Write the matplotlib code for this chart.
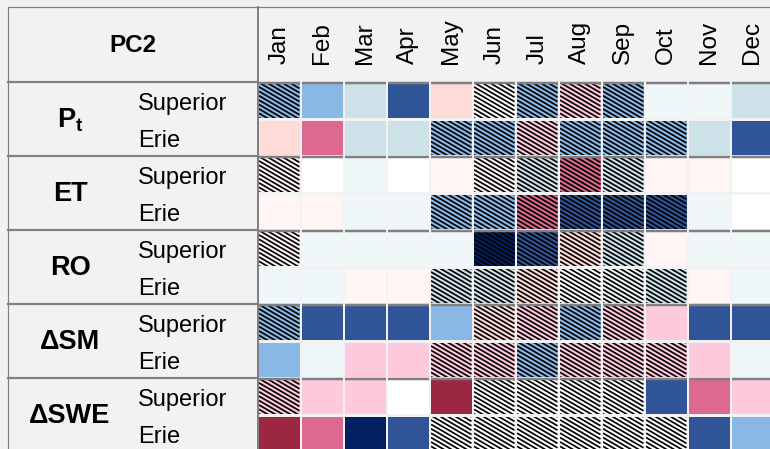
import matplotlib
matplotlib.use("Agg")
import matplotlib.pyplot as plt
from matplotlib.patches import Rectangle
from matplotlib.collections import LineCollection

plt.rcParams['font.family'] = ['Liberation Sans', 'DejaVu Sans']
plt.rcParams['mathtext.fontset'] = 'custom'
plt.rcParams['mathtext.rm'] = 'Liberation Sans'
plt.rcParams['mathtext.bf'] = 'Liberation Sans:bold'

months = ['Jan', 'Feb', 'Mar', 'Apr', 'May', 'Jun', 'Jul', 'Aug', 'Sep', 'Oct', 'Nov', 'Dec']
groups = [r'$\mathbf{P_t}$', 'ET', 'RO', 'ΔSM', 'ΔSWE']
basins = ['Superior', 'Erie']

# colour class per cell, -5 (strong negative) .. 5 (strong positive)
levels = [
    [-3, -3, -2, -4,  2,  0, -3,  3, -3, -1, -1, -2],   # Pt Superior
    [ 2,  4, -2, -2, -3, -3,  3, -3, -3, -3, -2, -4],   # Pt Erie
    [ 1,  0, -1,  0,  1,  1, -2,  4, -2,  1,  1,  0],   # ET Superior
    [ 1,  1, -1, -1, -3, -3,  4, -4, -4, -4, -1,  0],   # ET Erie
    [ 1, -1, -1, -1, -1, -5, -4,  2, -2,  1, -1, -1],   # RO Superior
    [-1, -1,  1,  1, -2, -2,  2,  0, -1, -2,  1, -1],   # RO Erie
    [-3, -4, -4, -4, -3,  2,  3, -3,  3,  3, -4, -4],   # dSM Superior
    [-3, -1,  3,  3,  3,  3, -3,  3,  3,  3,  3, -1],   # dSM Erie
    [ 3,  3,  3,  0,  5,  0,  0,  0,  0, -4,  4,  3],   # dSWE Superior
    [ 5,  4, -5, -4,  0,  0,  0,  0,  0,  0, -4, -3],   # dSWE Erie
]
# 1 = hatched cell
hatched = [
    [1, 0, 0, 0, 0, 1, 1, 1, 1, 0, 0, 0],
    [0, 0, 0, 0, 1, 1, 1, 1, 1, 1, 0, 0],
    [1, 0, 0, 0, 0, 1, 1, 1, 1, 0, 0, 0],
    [0, 0, 0, 0, 1, 1, 1, 1, 1, 1, 0, 0],
    [1, 0, 0, 0, 0, 1, 1, 1, 1, 0, 0, 0],
    [0, 0, 0, 0, 1, 1, 1, 1, 1, 1, 0, 0],
    [1, 0, 0, 0, 0, 1, 1, 1, 1, 0, 0, 0],
    [0, 0, 0, 0, 1, 1, 1, 1, 1, 1, 0, 0],
    [1, 0, 0, 0, 0, 1, 1, 1, 1, 0, 0, 0],
    [0, 0, 0, 0, 1, 1, 1, 1, 1, 1, 0, 0],
]

palette = {
    -5: '#002060', -4: '#2f5597', -3: '#8ab8e6', -2: '#cde1e9', -1: '#eff7f9',
    0: '#ffffff', 1: '#fff5f5', 2: '#ffdbd8', 3: '#fec8dd', 4: '#dd6890', 5: '#9c2740',
}

BG = '#f2f2f2'
GRID = '#808080'
PX = 0.72  # one pixel in points at dpi 100

fig = plt.figure(figsize=(7.7, 4.49), dpi=100)
fig.patch.set_facecolor(BG)
ax = fig.add_axes([0, 0, 1, 1])
ax.set_xlim(0, 770)
ax.set_ylim(449, 0)
ax.axis('off')

x_grid, y_grid = 259, 84
col_w, row_h = 43, 37
cell_w, cell_h = 40.5, 34
slope, period = 0.58, 4.4

for i, row in enumerate(levels):
    for j, lv in enumerate(row):
        x0 = x_grid + j * col_w
        y0 = y_grid + i * row_h
        rect = Rectangle((x0, y0), cell_w, cell_h, facecolor=palette[lv],
                         edgecolor='none', zorder=2)
        ax.add_patch(rect)
        if hatched[i][j]:
            # diagonal stripes, clipped to the cell
            segs = []
            c = -slope * cell_w - period
            while c < cell_h + period:
                segs.append([(x0, y0 + c), (x0 + cell_w, y0 + c + slope * cell_w)])
                c += period
            lc = LineCollection(segs, colors='black', linewidths=1.7 * PX, zorder=3)
            ax.add_collection(lc)
            lc.set_clip_path(rect)
        if i % 2 == 0:
            ax.plot([x0 - 0.5, x0 + cell_w + 0.5], [y0 - 1.5, y0 - 1.5], color=GRID,
                    lw=2.5 * PX, solid_capstyle='butt', zorder=4)

# frame lines of the label block
ax.plot([8, 770], [7, 7], color=GRID, lw=1.2 * PX, zorder=1)
ax.plot([8, 8], [7, 449], color=GRID, lw=1.2 * PX, zorder=1)
ax.plot([257.5, 257.5], [7, 449], color=GRID, lw=2 * PX, zorder=1)
for g in range(len(groups)):
    yl = 82 + g * 2 * row_h
    ax.plot([8, 257.5], [yl, yl], color=GRID, lw=2.2 * PX, zorder=1)

ax.text(133, 45, 'PC2', fontsize=17.5, fontweight='bold', ha='center', va='center')

for g, name in enumerate(groups):
    yc = 82 + g * 2 * row_h + row_h + 1
    ax.text(70, yc, name, fontsize=19.5, fontweight='bold', ha='center', va='center')
    for b, basin in enumerate(basins):
        yr = y_grid + (2 * g + b) * row_h + cell_h / 2 + 3
        ax.text(138, yr, basin, fontsize=17, ha='left', va='center')

for j, m in enumerate(months):
    ax.text(x_grid + j * col_w + cell_w / 2, 64, m, fontsize=17.5, rotation=90,
            ha='center', va='bottom')

fig.savefig('out.png', dpi=100, facecolor=fig.get_facecolor())
